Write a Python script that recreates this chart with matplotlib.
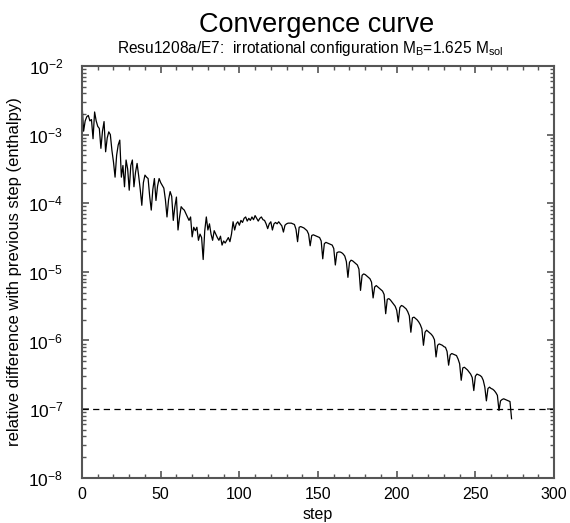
import matplotlib
matplotlib.use('Agg')
import matplotlib.pyplot as plt
import numpy as np
from matplotlib.ticker import LogLocator, MultipleLocator

plt.rcParams['font.family'] = ['Liberation Sans', 'DejaVu Sans']
plt.rcParams['mathtext.fontset'] = 'custom'
plt.rcParams['mathtext.rm'] = 'Liberation Sans'
plt.rcParams['mathtext.it'] = 'Liberation Sans:italic'

# log10 of the relative enthalpy difference, one value per step
log_diff = [
    -2.55, -2.95, -2.80, -2.74, -2.72, -2.80, -2.78, -3.06, -2.67, -2.80,
    -2.88, -2.91, -3.20, -2.95, -2.81, -3.25, -3.05, -2.96, -3.00, -3.23,
    -3.40, -3.62, -3.30, -3.15, -3.08, -3.62, -3.45, -3.76, -3.37, -3.50,
    -3.81, -3.45, -3.37, -3.76, -3.55, -3.42, -3.60, -3.80, -4.03, -3.70,
    -3.59, -3.62, -3.64, -3.90, -4.10, -3.80, -3.64, -3.96, -3.75, -3.64,
    -3.70, -3.74, -3.78, -3.95, -4.20, -3.95, -3.83, -3.90, -4.25, -4.05,
    -3.91, -4.39, -4.20, -4.05, -4.08, -4.10, -4.15, -4.20, -4.25, -4.20,
    -4.49, -4.35, -4.40, -4.35, -4.54, -4.45, -4.50, -4.82, -4.40, -4.20,
    -4.39, -4.30, -4.45, -4.54, -4.40, -4.45, -4.50, -4.54, -4.48, -4.61,
    -4.55, -4.58, -4.54, -4.50, -4.56, -4.45, -4.27, -4.39, -4.30, -4.27,
    -4.32, -4.25, -4.28, -4.22, -4.20, -4.26, -4.22, -4.25, -4.20, -4.24,
    -4.18, -4.22, -4.26, -4.22, -4.20, -4.24, -4.25, -4.30, -4.37, -4.30,
    -4.27, -4.39, -4.30, -4.28, -4.30, -4.27, -4.30, -4.33, -4.42, -4.32,
    -4.30, -4.29, -4.29, -4.29, -4.30, -4.31, -4.38, -4.56, -4.35, -4.34,
    -4.35, -4.36, -4.38, -4.40, -4.45, -4.62, -4.47, -4.46, -4.47, -4.48,
    -4.49, -4.50, -4.55, -4.81, -4.59, -4.57, -4.58, -4.59, -4.60, -4.61,
    -4.66, -4.90, -4.72, -4.71, -4.71, -4.72, -4.74, -4.77, -4.85, -5.08,
    -4.86, -4.83, -4.84, -4.86, -4.88, -4.90, -4.96, -5.27, -5.05, -5.03,
    -5.04, -5.06, -5.08, -5.10, -5.15, -5.38, -5.22, -5.20, -5.22, -5.24,
    -5.26, -5.28, -5.33, -5.61, -5.40, -5.39, -5.41, -5.44, -5.47, -5.50,
    -5.56, -5.73, -5.52, -5.49, -5.50, -5.52, -5.54, -5.58, -5.64, -5.88,
    -5.67, -5.66, -5.68, -5.70, -5.73, -5.77, -5.83, -6.07, -5.88, -5.85,
    -5.87, -5.89, -5.91, -5.94, -5.99, -6.24, -6.07, -6.05, -6.06, -6.07,
    -6.09, -6.10, -6.16, -6.36, -6.21, -6.19, -6.20, -6.21, -6.22, -6.27,
    -6.34, -6.58, -6.40, -6.39, -6.41, -6.43, -6.46, -6.49, -6.54, -6.73,
    -6.52, -6.49, -6.50, -6.51, -6.53, -6.58, -6.68, -6.88, -6.70, -6.68,
    -6.70, -6.71, -6.73, -6.76, -6.80, -7.02, -6.88, -6.86, -6.85, -6.86,
    -6.87, -6.88, -6.89, -7.14,
]
steps = np.arange(len(log_diff))
rel_diff = 10.0 ** np.array(log_diff)

threshold = 1e-7

fig = plt.figure(figsize=(5.70, 5.23), dpi=100)
ax = fig.add_axes([0.1439, 0.0866, 0.8281, 0.7872])

ax.plot(steps, rel_diff, color='black', lw=0.9)
ax.axhline(threshold, color='black', lw=0.9, ls=(0, (5, 3.5)))

ax.set_yscale('log')
ax.set_xlim(0, 300)
ax.set_ylim(1e-8, 1e-2)
ax.xaxis.set_major_locator(MultipleLocator(50))
ax.xaxis.set_minor_locator(MultipleLocator(10))
ax.yaxis.set_major_locator(LogLocator(base=10, numticks=20))
ax.yaxis.set_minor_locator(LogLocator(base=10, subs=np.arange(2, 10), numticks=20))

for s in ax.spines.values():
    s.set_color('#555555')
    s.set_linewidth(1.5)
ax.tick_params(which='both', direction='in', top=True, right=True, color='#555555')
ax.tick_params(which='major', length=5, width=1.2)
ax.tick_params(which='minor', length=3, width=1.0)
ax.tick_params(axis='x', labelsize=11.5, pad=6.5)
ax.tick_params(axis='y', labelsize=12.5, pad=13.5)

ax.set_xlabel('step', fontsize=11.5, labelpad=4)
ax.set_ylabel('relative difference with previous step (enthalpy)', fontsize=12)
ax.yaxis.set_label_coords(-0.128, 0.5)

fig.text(0.555, 1 - 32 / 523, 'Convergence curve', ha='center', va='baseline', fontsize=19.5)
fig.text(0.545, 1 - 53 / 523,
         r'Resu1208a/E7:  irrotational configuration M$_{\rm B}$=1.625 M$_{\rm sol}$',
         ha='center', va='baseline', fontsize=11.2)

fig.savefig('out.png', dpi=100)
